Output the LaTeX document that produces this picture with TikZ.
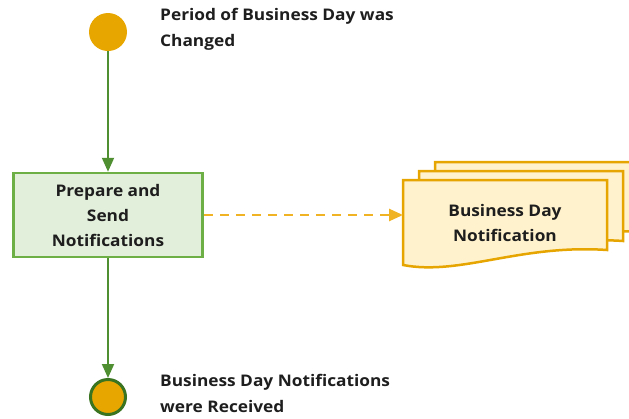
\documentclass[tikz,border=0pt]{standalone}
\usepackage{fontspec}
\setmainfont{Open Sans}[FakeStretch=1.08]
\usetikzlibrary{arrows.meta}
\definecolor{evorange}{HTML}{E8A600}
\definecolor{flowgreen}{HTML}{4F8F32}
\definecolor{darkgreen}{HTML}{3A7420}
\definecolor{boxgreen}{HTML}{6DAE45}
\definecolor{boxfill}{HTML}{E2EFDA}
\definecolor{docline}{HTML}{E6A500}
\definecolor{docfill}{HTML}{FFF2CC}
\definecolor{dashcol}{HTML}{F0B323}
\definecolor{txt}{HTML}{1E1E1E}
\tikzset{
  lbl/.style={font=\fontsize{16}{26}\selectfont\bfseries, text=txt, align=left, anchor=north west, inner sep=0pt},
  evstart/.style={circle, fill=evorange, minimum size=38pt, inner sep=0pt},
  evend/.style={circle, fill=evorange, draw=darkgreen, line width=3pt, minimum size=35pt, inner sep=0pt},
  taskbox/.style={draw=boxgreen, fill=boxfill, line width=2.5pt, minimum width=189pt, minimum height=84pt, align=center, text=txt, font=\fontsize{16}{25}\selectfont\bfseries, inner sep=0pt},
  flow/.style={draw=flowgreen, line width=2pt, -{Triangle[length=14pt,width=12pt]}},
  assoc/.style={draw=dashcol, line width=2.5pt, dash pattern=on 9pt off 7pt, -{Triangle[length=14pt,width=12pt]}},
  docshape/.style={draw=docline, fill=docfill, line width=2.5pt, line join=miter},
  doctext/.style={align=center, text=txt, font=\fontsize{16}{25}\selectfont\bfseries, inner sep=0pt}
}
\begin{document}
\begin{tikzpicture}[x=1pt,y=-1pt]
\useasboundingbox (0,0) rectangle (629,418);
% documents (back to front)
\foreach \dx/\dy in {32/-18, 16/-9, 0/0} {
  \path[docshape] (403+\dx,180+\dy) -- (607+\dx,180+\dy) -- (607+\dx,250+\dy)
    .. controls (520+\dx,244+\dy) and (460+\dx,276+\dy) .. (403+\dx,265+\dy) -- cycle;
}
\node[doctext] (doc) at (505,223) {Business Day\\Notification};
\coordinate (docin) at (403,215);

\node[evstart] (start) at (108,32) {};
\node[lbl] (startlbl) at (160,8) {Period of Business Day was\\Changed};

\node[taskbox] (task) at (108,215) {Prepare and\\Send\\Notifications};

\node[evend] (end) at (108,397) {};
\node[lbl] (endlbl) at (160,374) {Business Day Notifications\\were Received};

\draw[flow] (start) -- (task);
\draw[flow] (task) -- (end);
\draw[assoc] (task.east) -- (docin);
\end{tikzpicture}
\end{document}
